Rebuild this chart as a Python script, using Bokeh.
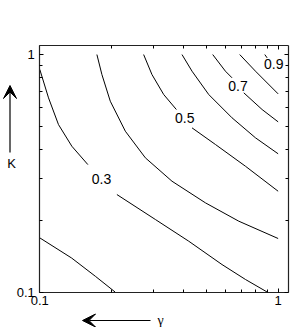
import math
from bokeh.plotting import figure
from bokeh.models import (Range1d, LogAxis, FixedTicker, CustomJSTickFormatter,
                          Label, Arrow, VeeHead)
from bokeh.core.properties import value
from bokeh.embed import file_html
from bokeh.resources import INLINE

nan = float("nan")

# axis ticks
major_ticks = [0.1, 1.0]
minor_ticks = [0.2, 0.3, 0.4, 0.5, 0.6, 0.7, 0.8, 0.9]
x_lo, x_hi = 0.1, 1.1
y_lo, y_hi = 0.1, 1.095

# contour lines (gamma, K); nan = gap for a label
g_02 = [0.100, 0.136, 0.171, 0.207]
k_02 = [0.169, 0.139, 0.1165, 0.100]

g_03 = [0.100, 0.1088, 0.1198, 0.1363, 0.1591, nan,
        0.2106, 0.3054, 0.4215, 0.5815, 0.7295, 0.899]
k_03 = [0.865, 0.657, 0.507, 0.411, 0.344, nan,
        0.2573, 0.2020, 0.1637, 0.1305, 0.1129, 0.100]

g_04 = [0.1736, 0.1822, 0.1976, 0.2285, 0.2773, 0.3586, 0.4955, 0.6838, 1.0]
k_04 = [1.0, 0.824, 0.636, 0.4755, 0.3673, 0.2928, 0.2374, 0.1987, 0.168]

g_05 = [0.2727, 0.2955, 0.331, 0.3742, nan, 0.4352, 0.5458, 0.7295, 1.0]
k_05 = [1.0, 0.824, 0.6787, 0.5867, nan, 0.4913, 0.418, 0.3385, 0.2657]

g_06 = [0.395, 0.4352, 0.5114, 0.6405, 0.8035, 1.0]
k_06 = [1.0, 0.851, 0.6787, 0.5415, 0.446, 0.382]

g_07 = [0.5315, 0.601, 0.6405, nan, 0.7176, 0.8566, 1.0]
k_07 = [1.0, 0.851, 0.798, nan, 0.690, 0.5867, 0.5207]

g_08 = [0.690, 0.8035, 1.0]
k_08 = [1.0, 0.851, 0.683]

g_09 = [0.879, 0.899]
k_09 = [1.0, 0.9685]

# contour labels
label_text = ["0.3", "0.5", "0.7", "0.9"]
label_g = [0.1816, 0.4055, 0.6786, 0.959]
label_k = [0.2985, 0.5388, 0.738, 0.912]

FONT = "Liberation Sans"
W, H = 292, 327
# plot box position on the canvas (pixels): left, right, top, bottom
BL, BR, BT, BB = 39.3, 287.5, 44.7, 291.5
dx = math.log10(x_hi / x_lo) / (BR - BL)
dy = math.log10(y_hi / y_lo) / (BB - BT)
xr = Range1d(x_lo / 10 ** (BL * dx), x_hi * 10 ** ((W - BR) * dx))
yr = Range1d(y_lo / 10 ** ((H - BB) * dy), y_hi * 10 ** (BT * dy))

p = figure(width=W, height=H, x_axis_type="log", y_axis_type="log",
           x_range=xr, y_range=yr,
           output_backend="svg", toolbar_location=None,
           min_border=0, min_border_left=0, min_border_right=0,
           min_border_top=0, min_border_bottom=0)
p.xgrid.visible = False
p.ygrid.visible = False
p.outline_line_color = None
p.background_fill_color = "white"
p.border_fill_color = "white"

fmt = CustomJSTickFormatter(code="return tick >= 1 ? tick.toFixed(0) : tick.toFixed(1);")


def style(ax, labels, loc, bounds, standoff=4):
    ax.fixed_location = loc
    ax.bounds = bounds
    ax.ticker = FixedTicker(ticks=major_ticks, minor_ticks=minor_ticks)
    ax.major_tick_in = 4
    ax.major_tick_out = 0
    ax.minor_tick_in = 3
    ax.minor_tick_out = 0
    ax.axis_line_color = "#222222"
    ax.axis_line_width = 1.2
    ax.major_tick_line_color = "black"
    ax.minor_tick_line_color = "black"
    ax.formatter = fmt
    if labels:
        ax.major_label_text_font = FONT
        ax.major_label_text_font_size = "13px"
        ax.major_label_text_color = "black"
        ax.major_label_standoff = standoff
    else:
        ax.major_label_text_font_size = "1px"
        ax.major_label_text_alpha = 0
        ax.major_label_standoff = 0


style(p.xaxis[0], True, y_lo, (x_lo, x_hi), 4)
style(p.yaxis[0], True, x_lo, (y_lo, y_hi), 5)
ax_r = LogAxis()
ax_t = LogAxis()
style(ax_r, False, x_hi, (y_lo, y_hi))
style(ax_t, False, y_hi, (x_lo, x_hi))
p.add_layout(ax_r, "right")
p.add_layout(ax_t, "above")

for g, k in [(g_02, k_02), (g_03, k_03), (g_04, k_04), (g_05, k_05),
             (g_06, k_06), (g_07, k_07), (g_08, k_08), (g_09, k_09)]:
    p.line(g, k, line_color="black", line_width=1)

p.text(x=label_g, y=label_k, text=label_text, text_align="center",
       text_baseline="middle", text_font=value(FONT), text_font_size="14px",
       text_color="black")

# axis titles with arrows (screen units, from the canvas's bottom-left)
p.add_layout(Arrow(x_start=9.5, y_start=175, x_end=9.5, y_end=242,
                   start_units="screen", end_units="screen",
                   line_color="black", line_width=1.2,
                   end=VeeHead(size=13, fill_color="black", line_color="black")))
p.add_layout(Label(x=11, y=164.5, x_units="screen", y_units="screen", text="K",
                   text_align="center", text_baseline="middle",
                   text_color="black",
                   text_font=FONT, text_font_size="13px"))
p.add_layout(Arrow(x_start=150, y_start=7, x_end=82, y_end=7,
                   start_units="screen", end_units="screen",
                   line_color="black", line_width=1.2,
                   end=VeeHead(size=13, fill_color="black", line_color="black")))
p.add_layout(Label(x=160, y=7.5, x_units="screen", y_units="screen", text="γ",
                   text_align="center", text_baseline="alphabetic",
                   text_color="black",
                   text_font="Liberation Serif", text_font_size="14px"))

open("out.html", "w").write(file_html(p, INLINE))
